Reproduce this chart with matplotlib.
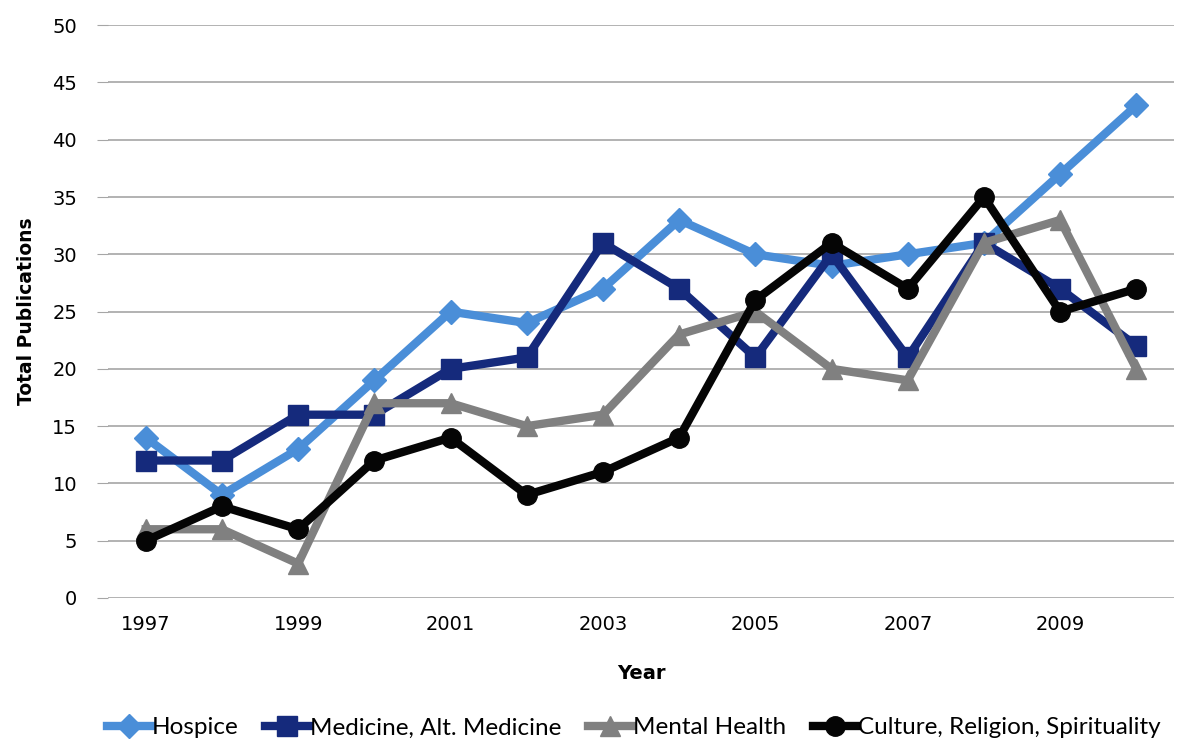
import matplotlib
matplotlib.use('Agg')
import matplotlib.pyplot as plt

years = list(range(1997, 2011))
hospice = [14, 9, 13, 19, 25, 24, 27, 33, 30, 29, 30, 31, 37, 43]
medicine = [12, 12, 16, 16, 20, 21, 31, 27, 21, 30, 21, 31, 27, 22]
mental = [6, 6, 3, 17, 17, 15, 16, 23, 25, 20, 19, 31, 33, 20]
culture = [5, 8, 6, 12, 14, 9, 11, 14, 26, 31, 27, 35, 25, 27]

series = [
    ('Hospice', hospice, '#4a8ed8', 'D', 12),
    ('Medicine, Alt. Medicine', medicine, '#152a7c', 's', 14),
    ('Mental Health', mental, '#808080', '^', 15),
    ('Culture, Religion, Spirituality', culture, '#050505', 'o', 14),
]

plt.rcParams['font.family'] = ['DejaVu Sans']
fig = plt.figure(figsize=(11.96, 7.41), dpi=100)
ax = fig.add_axes([0.090, 0.193, 0.892, 0.773])

for i, (name, vals, col, mk, ms) in enumerate(series):
    ax.plot(years, vals, color=col, lw=6, marker=mk, ms=ms, mfc=col, mec=col,
            label=name, zorder=3 + i, solid_joinstyle='miter')

ax.set_ylim(0, 50)
ax.set_xlim(1996.5, 2010.5)
ax.set_yticks(range(0, 51, 5))
ax.set_xticks(range(1997, 2010, 2))
ax.grid(axis='y', color='#a6a6a6', lw=1.2, zorder=0)
for s in ['top', 'right', 'left', 'bottom']:
    ax.spines[s].set_visible(False)
ax.tick_params(axis='y', length=8, color='#a6a6a6', labelsize=14, pad=14)
ax.tick_params(axis='x', length=0, labelsize=14, pad=12)
ax.set_xlabel('Year', fontsize=14, fontweight='bold', labelpad=22)
ax.set_ylabel('Total Publications', fontsize=13.5, fontweight='bold', labelpad=12)

fig.legend(loc='lower center', bbox_to_anchor=(0.53, -0.026), ncol=4, frameon=False,
           prop={'family': 'Lato', 'size': 17.5}, handlelength=1.8,
           handletextpad=0.05, columnspacing=1.1)
fig.savefig('out.png', dpi=100)
